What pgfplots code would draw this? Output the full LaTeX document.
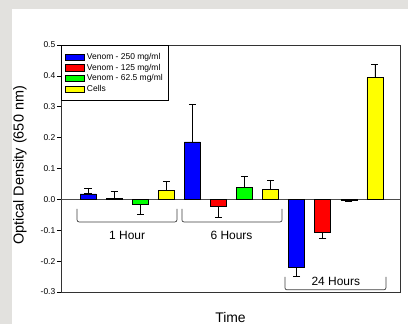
\documentclass[border=0pt]{standalone}
\usepackage{fontspec}
\setmainfont{Liberation Sans}
\usepackage{pgfplots}
\usepackage{pgfplotstable}
\pgfplotsset{compat=1.18}
\definecolor{bgray}{RGB}{226,225,222}
\pgfplotstableread{
x y ep em
0 0.018 0.019 0
4 0.186 0.120 0
8 -0.221 0 0.030
}\blue
\pgfplotstableread{
x y ep em
1 0.003 0.022 0
5 -0.022 0 0.038
9 -0.108 0 0.018
}\red
\pgfplotstableread{
x y ep em
2 -0.017 0 0.033
6 0.040 0.036 0
10 -0.004 0 0.002
}\green
\pgfplotstableread{
x y ep em
3 0.030 0.027 0
7 0.033 0.030 0
11 0.394 0.044 0
}\yellow
\begin{document}
\begin{tikzpicture}
\useasboundingbox (0,0) rectangle (408bp,324bp);
\fill[bgray] (0,0) rectangle (408bp,324bp);
\fill[white] (12bp,0) rectangle (408bp,315bp);
\begin{axis}[
  at={(61bp,32bp)}, anchor=south west,
  scale only axis, width=339bp, height=247bp,
  xmin=-1.035, xmax=11.96, ymin=-0.3, ymax=0.5,
  axis line style={black!80, line width=0.8bp},
  xtick=\empty,
  ytick={-0.3,-0.2,-0.1,0,0.1,0.2,0.3,0.4,0.5},
  yticklabels={-0.3,-0.2,-0.1,0.0,0.1,0.2,0.3,0.4,0.5},
  ytick pos=left, tick align=outside, major tick length=4bp,
  tick style={black, line width=0.7bp},
  yticklabel style={font=\fontsize{8.5}{9}\selectfont, inner sep=1.5bp},
  ylabel={Optical Density (650 nm)},
  every axis y label/.style={at={(rel axis cs:0,0.5)}, rotate=90, anchor=center, yshift=41bp, xshift=3bp, font=\fontsize{14.5}{16}\selectfont},
  xlabel={Time},
  every axis x label/.style={at={(rel axis cs:0.5,0)}, anchor=center, yshift=-25.5bp, font=\fontsize{14}{16}\selectfont},
  ybar, bar width=16bp,
  legend style={at={(0,1)}, anchor=north west, draw=black, line width=0.8bp,
    font=\fontsize{8.5}{9}\selectfont, inner xsep=4bp, inner ysep=6bp,
    row sep=-1bp, cells={anchor=west}},
  legend cell align=left,
  clip=false,
]
\draw[black!70, line width=0.7bp] (axis cs:-1.035,0) -- (axis cs:11.96,0);
\pgfplotsset{myleg/.style={legend image code/.code={\draw[##1, draw=black, line width=0.6bp] (0bp,-3.2bp) rectangle (19bp,3.2bp);}}}
\pgfplotsset{eb/.style={error bars/.cd, y dir=both, y explicit, error bar style={black, line width=0.8bp}, error mark options={black, rotate=90, mark size=3.5bp, line width=0.8bp}}}
\addplot[fill={rgb,255:red,0;green,0;blue,255}, draw=black, line width=0.6bp, bar shift=0pt, myleg, eb]
  table[x=x, y=y, y error plus=ep, y error minus=em] {\blue};
\addlegendentry{Venom - 250 mg/ml}
\addplot[fill={rgb,255:red,255;green,0;blue,0}, draw=black, line width=0.6bp, bar shift=0pt, myleg, eb]
  table[x=x, y=y, y error plus=ep, y error minus=em] {\red};
\addlegendentry{Venom - 125 mg/ml}
\addplot[fill={rgb,255:red,0;green,255;blue,0}, draw=black, line width=0.6bp, bar shift=0pt, myleg, eb]
  table[x=x, y=y, y error plus=ep, y error minus=em] {\green};
\addlegendentry{Venom - 62.5 mg/ml\hspace{20bp}}
\addplot[fill={rgb,255:red,255;green,255;blue,0}, draw=black, line width=0.6bp, bar shift=0pt, myleg, eb]
  table[x=x, y=y, y error plus=ep, y error minus=em] {\yellow};
\addlegendentry{Cells}
% group brackets
\draw[black!75, line width=0.7bp, rounded corners=2bp] (axis cs:-0.42,-0.031) -- (axis cs:-0.42,-0.073) -- (axis cs:3.41,-0.073) -- (axis cs:3.41,-0.031);
\draw[black!75, line width=0.7bp, rounded corners=2bp] (axis cs:3.60,-0.031) -- (axis cs:3.60,-0.073) -- (axis cs:7.44,-0.073) -- (axis cs:7.44,-0.031);
\draw[black!75, line width=0.7bp, rounded corners=2bp] (axis cs:7.55,-0.251) -- (axis cs:7.55,-0.293) -- (axis cs:11.42,-0.293) -- (axis cs:11.42,-0.251);
\node[font=\fontsize{12}{14}\selectfont] at (axis cs:1.5,-0.118) {1 Hour};
\node[font=\fontsize{12}{14}\selectfont] at (axis cs:5.5,-0.118) {6 Hours};
\node[font=\fontsize{12}{14}\selectfont] at (axis cs:9.5,-0.264) {24 Hours};
\end{axis}
\end{tikzpicture}
\end{document}
